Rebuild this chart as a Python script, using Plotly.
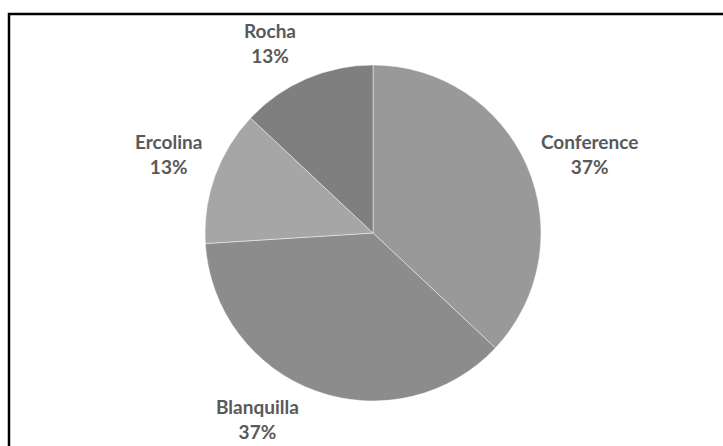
import plotly.graph_objects as go

# Pear varieties and their shares
varieties = ["Conference", "Blanquilla", "Ercolina", "Rocha"]
shares = [37, 37, 13, 13]
slice_colors = ["#999999", "#8c8c8c", "#a6a6a6", "#7f7f7f"]

W, H = 723, 446
cx, cy, R = 373, 233, 168          # pie centre / radius in pixels

# Label box centres (pixels from the top-left), one per variety
label_xy = {
    "Conference": (589, 154),
    "Blanquilla": (257, 419),
    "Ercolina": (168, 154),
    "Rocha": (270, 43),
}

fig = go.Figure(go.Pie(
    labels=varieties,
    values=shares,
    sort=False,
    direction="clockwise",
    rotation=0,
    marker=dict(colors=slice_colors, line=dict(color="rgba(255,255,255,0.45)", width=1)),
    textinfo="none",
    hoverinfo="label+percent",
    showlegend=False,
    domain=dict(x=[(cx - R) / W, (cx + R) / W],
                y=[(H - cy - R) / H, (H - cy + R) / H]),
))

# Category name + percentage outside each slice
total = sum(shares)
for name, v in zip(varieties, shares):
    px, py = label_xy[name]
    fig.add_annotation(
        x=px / W, y=1 - py / H, xref="paper", yref="paper",
        xanchor="center", yanchor="middle",
        text=f"{name}<br>{round(v / total * 100)}%",
        showarrow=False, align="center",
        font=dict(family="Lato", size=19, color="#595959", weight="bold"),
    )

# Chart frame (top and left edges fall inside the image)
fig.add_shape(type="rect", xref="paper", yref="paper",
              x0=9 / W, x1=1.05, y0=-0.05, y1=1 - 14 / H,
              line=dict(color="#000000", width=2.5), fillcolor="rgba(0,0,0,0)")

fig.update_layout(
    width=W, height=H,
    margin=dict(l=0, r=0, t=0, b=0),
    paper_bgcolor="white", plot_bgcolor="white",
)

fig.write_html("out.html")
